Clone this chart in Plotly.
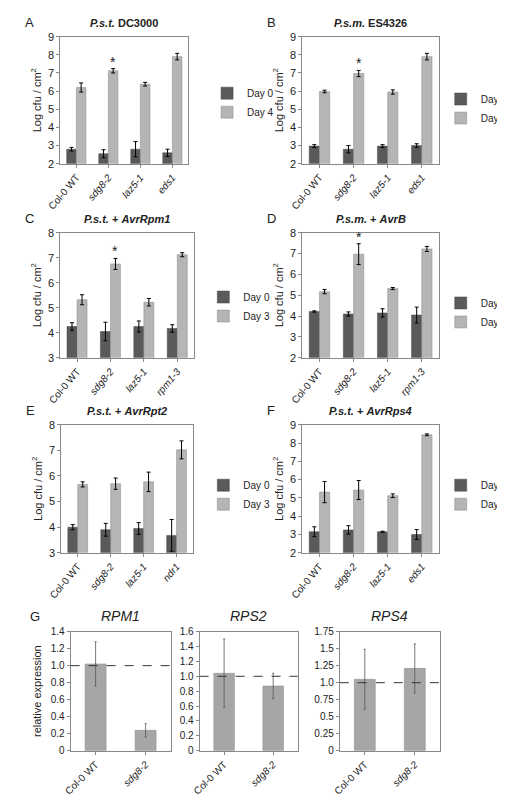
import plotly.graph_objects as go

W, H = 505, 800
dark = "#5a5a5a"
light = "#b5b5b5"
gbar = "#a6a6a6"

genotypes_ab = ["Col-0 WT", "sdg8-2", "laz5-1", "eds1"]
genotypes_cd = ["Col-0 WT", "sdg8-2", "laz5-1", "rpm1-3"]
genotypes_e = ["Col-0 WT", "sdg8-2", "laz5-1", "ndr1"]

a_d0 = [2.8, 2.55, 2.8, 2.6];   a_d0_err = [0.1, 0.22, 0.42, 0.2]
a_d4 = [6.2, 7.12, 6.38, 7.9];  a_d4_err = [0.25, 0.12, 0.1, 0.18]
b_d0 = [2.97, 2.8, 2.97, 3.0];  b_d0_err = [0.08, 0.2, 0.08, 0.1]
b_d4 = [5.98, 6.97, 5.95, 7.9]; b_d4_err = [0.07, 0.17, 0.12, 0.18]
c_d0 = [4.25, 4.05, 4.25, 4.17]; c_d0_err = [0.15, 0.37, 0.22, 0.15]
c_d3 = [5.32, 6.75, 5.22, 7.12]; c_d3_err = [0.2, 0.22, 0.15, 0.08]
d_d0 = [4.22, 4.1, 4.15, 4.05]; d_d0_err = [0.03, 0.1, 0.2, 0.38]
d_d3 = [5.17, 6.97, 5.32, 7.22]; d_d3_err = [0.1, 0.5, 0.05, 0.12]
e_d0 = [4.0, 3.9, 3.95, 3.68];  e_d0_err = [0.1, 0.25, 0.23, 0.62]
e_d3 = [5.67, 5.7, 5.77, 7.02]; e_d3_err = [0.1, 0.22, 0.38, 0.35]
f_d0 = [3.15, 3.25, 3.15, 3.0]; f_d0_err = [0.27, 0.23, 0.03, 0.27]
f_d4 = [5.32, 5.43, 5.12, 8.45]; f_d4_err = [0.58, 0.52, 0.1, 0.05]

g_genotypes = ["Col-0 WT", "sdg8-2"]
rpm1 = [1.02, 0.24]; rpm1_err = [0.26, 0.08]
rps2 = [1.04, 0.87]; rps2_err = [0.46, 0.17]
rps4 = [1.05, 1.21]; rps4_err = [0.44, 0.36]

FONT = "Liberation Sans, Arial, sans-serif"

def lab(g):
    return g if g == "Col-0 WT" else "<i>%s</i>" % g

# letter, title, genotypes, day0, err0, dayN, errN, label, yrange, star, box(px: x0,x1,y0,y1), legend pos(px)
panels = [
    ("A", "<b><i>P.s.t.</i> DC3000</b>", genotypes_ab, a_d0, a_d0_err, a_d4, a_d4_err, "Day 4", [2, 9], True, (41, 178, 23, 152), (198, 90)),
    ("B", "<b><i>P.s.m.</i> ES4326</b>", genotypes_ab, b_d0, b_d0_err, b_d4, b_d4_err, "Day 4", [2, 9], True, (300, 446, 23, 152), (448, 96)),
    ("C", "<b><i>P.s.t.</i> + <i>AvrRpm1</i></b>", genotypes_cd, c_d0, c_d0_err, c_d3, c_d3_err, "Day 3", [3, 8], True, (41, 184, 222, 349), (194, 297)),
    ("D", "<b><i>P.s.m.</i> + <i>AvrB</i></b>", genotypes_cd, d_d0, d_d0_err, d_d3, d_d3_err, "Day 3", [2, 8], True, (300, 446, 222, 349), (448, 303)),
    ("E", "<b><i>P.s.t.</i> + <i>AvrRpt2</i></b>", genotypes_e, e_d0, e_d0_err, e_d3, e_d3_err, "Day 3", [3, 8], False, (42, 183, 417, 547), (194, 488)),
    ("F", "<b><i>P.s.t.</i> + <i>AvrRps4</i></b>", genotypes_ab, f_d0, f_d0_err, f_d4, f_d4_err, "Day 4", [2, 9], False, (300, 446, 417, 547), (448, 488)),
]

fig = go.Figure()
ann = []
layout = {}
err_style = dict(type="data", color="black", thickness=1, width=2)

for i, (letter, title, gts, d0, e0, dn, en, dlab, yr, star, box, lpos) in enumerate(panels):
    n = i + 1
    xa = "x" if n == 1 else "x%d" % n
    ya = "y" if n == 1 else "y%d" % n
    lg = "legend" if n == 1 else "legend%d" % n
    x0, x1, y0, y1 = box
    fig.add_trace(go.Bar(x=gts, y=d0, error_y=dict(array=e0, **err_style), name="Day 0",
                         marker=dict(color=dark, line=dict(color="#444", width=0.5)),
                         width=0.3, offset=-0.3, xaxis=xa, yaxis=ya, legend=lg))
    fig.add_trace(go.Bar(x=gts, y=dn, error_y=dict(array=en, **err_style), name=dlab,
                         marker=dict(color=light, line=dict(color="#888", width=0.5)),
                         width=0.3, offset=0, xaxis=xa, yaxis=ya, legend=lg))
    layout["xaxis" if n == 1 else "xaxis%d" % n] = dict(
        domain=[x0 / W, x1 / W], anchor=ya, tickangle=-50, tickvals=gts, ticktext=[lab(g) for g in gts],
        showline=True, linecolor="#888", mirror=True, ticks="outside", ticklen=3, tickcolor="#888",
        tickfont=dict(size=10, family=FONT, color="#222"))
    layout["yaxis" if n == 1 else "yaxis%d" % n] = dict(
        domain=[1 - y1 / H, 1 - y0 / H], anchor=xa, range=yr, dtick=1, showgrid=False,
        showline=True, linecolor="#888", mirror=True, ticks="outside", ticklen=3, tickcolor="#888",
        tickfont=dict(size=11, family=FONT, color="#222"),
        title=dict(text="Log cfu / cm<sup>2</sup>", font=dict(size=11, family=FONT, color="#222"), standoff=4))
    layout[lg] = dict(x=lpos[0] / W, y=1 - lpos[1] / H, xanchor="left", yanchor="middle",
                      font=dict(size=10, family=FONT, color="#222"), bgcolor="rgba(0,0,0,0)",
                      itemwidth=30, tracegroupgap=0, borderwidth=0)
    ann.append(dict(text=title, x=(x0 + x1) / 2 / W, y=1 - (y0 - 14) / H, xref="paper", yref="paper",
                    xanchor="center", yanchor="middle",
                    showarrow=False, font=dict(size=11, family=FONT, color="#222")))
    ann.append(dict(text=letter, x=(x0 - 40) / W, y=1 - (y0 - 14) / H, xref="paper", yref="paper",
                    yanchor="middle",
                    showarrow=False, xanchor="left", font=dict(size=13, family=FONT, color="#222")))
    if star:
        ann.append(dict(text="*", x=1.15, y=dn[1] + en[1], xref=xa, yref=ya, yanchor="bottom",
                        xanchor="center", showarrow=False, yshift=-3,
                        font=dict(size=14, family=FONT, color="#222")))

g_panels = [
    ("RPM1", rpm1, rpm1_err, [0, 1.4], [0, 0.2, 0.4, 0.6, 0.8, 1.0, 1.2, 1.4],
     ["0", "0.2", "0.4", "0.6", "0.8", "1.0", "1.2", "1.4"], (52, 159)),
    ("RPS2", rps2, rps2_err, [0, 1.6], [0, 0.2, 0.4, 0.6, 0.8, 1.0, 1.2, 1.4, 1.6],
     ["0", "0.2", "0.4", "0.6", "0.8", "1.0", "1.2", "1.4", "1.6"], (190, 295)),
    ("RPS4", rps4, rps4_err, [0, 1.75], [0, 0.25, 0.5, 0.75, 1.0, 1.25, 1.5, 1.75],
     ["0", "0.25", "0.5", "0.75", "1.0", "1.25", "1.5", "1.75"], (340, 447)),
]
gy0, gy1 = 627, 748
for j, (gname, vals, errs, yr, tv, tt, (x0, x1)) in enumerate(g_panels):
    n = 7 + j
    xa, ya = "x%d" % n, "y%d" % n
    fig.add_trace(go.Bar(x=g_genotypes, y=vals, width=0.42, showlegend=False,
                         error_y=dict(array=errs, type="data", color="#555", thickness=0.8, width=1),
                         marker=dict(color=gbar, line=dict(color="#888", width=0.5)), xaxis=xa, yaxis=ya))
    layout["xaxis%d" % n] = dict(
        domain=[x0 / W, x1 / W], anchor=ya, tickangle=-45, tickvals=g_genotypes,
        ticktext=["Col-0 WT", "<i>sdg8-2</i>"], showline=True, linecolor="#888", mirror=True,
        ticks="outside", ticklen=3, tickcolor="#888", tickfont=dict(size=10, family=FONT, color="#222"))
    layout["yaxis%d" % n] = dict(
        domain=[1 - gy1 / H, 1 - gy0 / H], anchor=xa, range=yr, tickvals=tv, ticktext=tt, showgrid=False,
        showline=True, linecolor="#888", mirror=True, ticks="outside", ticklen=3, tickcolor="#888",
        tickfont=dict(size=10, family=FONT, color="#222"),
        title=dict(text="relative expression" if j == 0 else "", font=dict(size=11, family=FONT, color="#222"), standoff=6))
    ann.append(dict(text="<i>%s</i>" % gname, x=(x0 + x1) / 2 / W, y=1 - 611 / H, xref="paper", yref="paper",
                    xanchor="center", yanchor="middle",
                    showarrow=False, font=dict(size=14, family=FONT, color="#222")))
    layout.setdefault("shapes", []).append(dict(type="line", xref="%s domain" % xa, yref=ya, x0=0, x1=1, y0=1, y1=1,
                                                line=dict(color="#333", width=1, dash="dash")))
ann.append(dict(text="G", x=6 / W, y=1 - 612 / H, xref="paper", yref="paper", showarrow=False,
                xanchor="left", yanchor="middle", font=dict(size=13, family=FONT, color="#222")))

fig.update_layout(width=W, height=H, margin=dict(l=0, r=0, t=0, b=0), barmode="overlay",
                  plot_bgcolor="white", paper_bgcolor="white", annotations=ann,
                  font=dict(family=FONT), **layout)
fig.write_html("out.html")
